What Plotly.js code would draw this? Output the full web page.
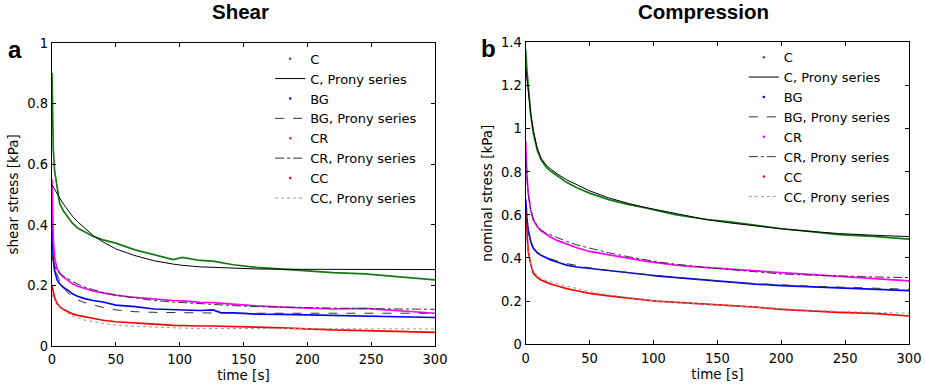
<!DOCTYPE html>
<html>
<head>
<meta charset="utf-8">
<script src="https://cdn.plot.ly/plotly-3.0.1.min.js"></script>
<style>html,body{margin:0;padding:0;background:#fff;}#chart{width:925px;height:385px;}</style>
</head>
<body>
<div id="chart"></div>
<script>
// time samples [s]
var time = [0, 0.5, 1, 2, 4, 6, 9, 12, 16, 20, 25, 32, 40, 50, 65, 80, 95, 102, 116, 126, 132, 142, 160, 180, 200, 220, 245, 272, 300];

// Shear stress [kPa]
var shearC      = [0.90, 0.75, 0.65, 0.58, 0.52, 0.47, 0.445, 0.427, 0.405, 0.389, 0.377, 0.362, 0.350, 0.339, 0.317, 0.300, 0.285, 0.292, 0.282, 0.280, 0.275, 0.268, 0.259, 0.253, 0.249, 0.242, 0.238, 0.227, 0.218];
var shearCFit   = [0.532, 0.528, 0.524, 0.517, 0.502, 0.488, 0.468, 0.450, 0.428, 0.410, 0.390, 0.365, 0.343, 0.320, 0.298, 0.281, 0.270, 0.266, 0.261, 0.259, 0.258, 0.256, 0.254, 0.253, 0.253, 0.252, 0.252, 0.252, 0.252];
var shearBG     = [0.40, 0.33, 0.285, 0.25, 0.218, 0.205, 0.193, 0.185, 0.172, 0.164, 0.157, 0.150, 0.145, 0.135, 0.130, 0.122, 0.120, 0.119, 0.117, 0.119, 0.110, 0.109, 0.105, 0.104, 0.102, 0.100, 0.100, 0.097, 0.094];
var shearBGFit  = [0.30, 0.29, 0.28, 0.26, 0.235, 0.215, 0.193, 0.177, 0.163, 0.152, 0.144, 0.135, 0.127, 0.119, 0.113, 0.111, 0.110, 0.109, 0.108, 0.108, 0.108, 0.108, 0.108, 0.108, 0.108, 0.108, 0.108, 0.108, 0.108];
var shearCR     = [0.55, 0.42, 0.35, 0.29, 0.255, 0.24, 0.227, 0.218, 0.205, 0.197, 0.190, 0.182, 0.175, 0.168, 0.160, 0.154, 0.150, 0.149, 0.144, 0.143, 0.141, 0.138, 0.132, 0.128, 0.124, 0.122, 0.124, 0.116, 0.108];
var shearCRFit  = [0.30, 0.29, 0.28, 0.265, 0.248, 0.238, 0.230, 0.223, 0.213, 0.204, 0.195, 0.185, 0.176, 0.167, 0.158, 0.150, 0.145, 0.143, 0.139, 0.137, 0.136, 0.133, 0.130, 0.128, 0.126, 0.124, 0.123, 0.122, 0.121];
var shearCC     = [0.20, 0.19, 0.18, 0.16, 0.14, 0.13, 0.12, 0.113, 0.106, 0.101, 0.097, 0.091, 0.085, 0.080, 0.075, 0.072, 0.068, 0.067, 0.066, 0.066, 0.065, 0.064, 0.062, 0.060, 0.056, 0.053, 0.051, 0.047, 0.045];
var shearCCFit  = [0.17, 0.165, 0.16, 0.152, 0.14, 0.13, 0.118, 0.108, 0.099, 0.093, 0.086, 0.080, 0.075, 0.069, 0.065, 0.062, 0.060, 0.059, 0.058, 0.058, 0.058, 0.058, 0.058, 0.058, 0.058, 0.058, 0.057, 0.056, 0.056];

// Nominal (compression) stress [kPa]
var compC       = [1.365, 1.30, 1.27, 1.20, 1.06, 0.978, 0.90, 0.855, 0.82, 0.80, 0.78, 0.75, 0.725, 0.70, 0.67, 0.648, 0.63, 0.62, 0.602, 0.592, 0.586, 0.578, 0.567, 0.552, 0.535, 0.524, 0.508, 0.500, 0.487];
var compCFit    = [1.28, 1.25, 1.22, 1.17, 1.07, 0.99, 0.91, 0.862, 0.83, 0.81, 0.788, 0.762, 0.738, 0.711, 0.678, 0.653, 0.632, 0.624, 0.605, 0.594, 0.587, 0.577, 0.562, 0.547, 0.535, 0.524, 0.513, 0.505, 0.499];
var compBG      = [0.672, 0.62, 0.58, 0.53, 0.475, 0.445, 0.425, 0.412, 0.40, 0.39, 0.38, 0.367, 0.358, 0.352, 0.342, 0.332, 0.322, 0.317, 0.31, 0.305, 0.302, 0.295, 0.286, 0.279, 0.272, 0.267, 0.262, 0.256, 0.249];
var compBGFit   = [0.60, 0.58, 0.56, 0.52, 0.475, 0.447, 0.427, 0.414, 0.403, 0.394, 0.385, 0.374, 0.364, 0.354, 0.342, 0.332, 0.322, 0.318, 0.31, 0.305, 0.302, 0.296, 0.288, 0.281, 0.275, 0.27, 0.265, 0.26, 0.255];
var compCR      = [0.94, 0.85, 0.78, 0.70, 0.62, 0.576, 0.545, 0.525, 0.508, 0.495, 0.48, 0.463, 0.447, 0.43, 0.413, 0.399, 0.384, 0.378, 0.368, 0.362, 0.359, 0.354, 0.348, 0.340, 0.332, 0.324, 0.315, 0.305, 0.294];
var compCRFit   = [0.86, 0.82, 0.77, 0.70, 0.62, 0.58, 0.55, 0.53, 0.515, 0.505, 0.494, 0.477, 0.46, 0.445, 0.424, 0.406, 0.39, 0.383, 0.372, 0.365, 0.361, 0.355, 0.346, 0.335, 0.326, 0.321, 0.316, 0.312, 0.309];
var compCC      = [0.615, 0.55, 0.50, 0.43, 0.37, 0.329, 0.31, 0.298, 0.288, 0.278, 0.27, 0.258, 0.248, 0.236, 0.224, 0.216, 0.205, 0.20, 0.195, 0.192, 0.19, 0.186, 0.18, 0.172, 0.162, 0.155, 0.148, 0.143, 0.131];
var compCCFit   = [0.52, 0.49, 0.46, 0.42, 0.37, 0.34, 0.32, 0.305, 0.295, 0.287, 0.28, 0.27, 0.258, 0.244, 0.229, 0.216, 0.205, 0.2, 0.194, 0.19, 0.188, 0.184, 0.178, 0.172, 0.164, 0.158, 0.152, 0.147, 0.144];

var xTicks = [0, 50, 100, 150, 200, 250, 300];
var seriesNames = ['C', 'BG', 'CR', 'CC'];
var fitSuffix = ', Prony series';

// ---- styling / layout ----
var W = 925, H = 385;
var ml = 51.7, mr = 15.7, mt = 42.3, mb = 39;
var pw = W - ml - mr, ph = H - mt - mb;
function px(x) { return (x - ml) / pw; }
function py(y) { return (H - mb - y) / ph; }

var dataColors = ['#117a11', '#0000ff', '#ff00ff', '#ff0000'];
var fitStyles = [
  {color: '#000000', dash: 'solid', width: 1},
  {color: '#333333', dash: 'dash', width: 1},
  {color: '#333333', dash: 'dashdot', width: 1},
  {color: '#999999', dash: 'dot', width: 1}
];

var shearData = [shearC, shearBG, shearCR, shearCC];
var shearFits = [shearCFit, shearBGFit, shearCRFit, shearCCFit];
var compData = [compC, compBG, compCR, compCC];
var compFits = [compCFit, compBGFit, compCRFit, compCCFit];

var traces = [];
function addPanel(dataSets, fitSets, xa, ya, leg) {
  for (var i = 0; i < seriesNames.length; i++) {
    traces.push({x: time, y: dataSets[i], xaxis: xa, yaxis: ya, mode: 'lines', type: 'scatter',
      line: {color: dataColors[i], width: 1.7}, showlegend: false, hoverinfo: 'skip'});
  }
  for (var j = 0; j < seriesNames.length; j++) {
    traces.push({x: time, y: fitSets[j], xaxis: xa, yaxis: ya, mode: 'lines', type: 'scatter',
      line: fitStyles[j], showlegend: false, hoverinfo: 'skip'});
  }
  // legend entries (point symbol for measurements, line for fits)
  for (var k = 0; k < seriesNames.length; k++) {
    traces.push({x: [null], y: [null], xaxis: xa, yaxis: ya, mode: 'markers', type: 'scatter',
      marker: {color: dataColors[k], size: 2.5}, name: seriesNames[k], legend: leg});
    traces.push({x: [null], y: [null], xaxis: xa, yaxis: ya, mode: 'lines', type: 'scatter',
      line: fitStyles[k], name: seriesNames[k] + fitSuffix, legend: leg});
  }
}
addPanel(shearData, shearFits, 'x', 'y', 'legend');
addPanel(compData, compFits, 'x2', 'y2', 'legend2');

var tickFont = {family: 'DejaVu Sans Condensed, DejaVu Sans', size: 14.5, color: '#000'};
var titleFont = {family: 'DejaVu Sans', size: 13.5, color: '#000'};

function xaxisDef(domain, anchor) {
  return {domain: domain, anchor: anchor, range: [0, 300], tickvals: xTicks, ticks: 'inside', ticklen: 4,
    tickcolor: '#000', showline: true, linecolor: '#000', linewidth: 1, mirror: 'ticks',
    showgrid: false, zeroline: false, tickfont: tickFont,
    title: {text: 'time [s]', font: titleFont, standoff: 0}};
}
function yaxisDef(domain, anchor, range, title) {
  return {domain: domain, anchor: anchor, range: range, dtick: 0.2, ticks: 'inside', ticklen: 4,
    tickcolor: '#000', showline: true, linecolor: '#000', linewidth: 1, mirror: 'ticks',
    showgrid: false, zeroline: false, tickfont: tickFont,
    title: {text: title, font: titleFont, standoff: 5}};
}

var legendCommon = {bgcolor: 'rgba(0,0,0,0)', borderwidth: 0, font: {family: 'DejaVu Sans', size: 13, color: '#000'},
  xanchor: 'left', yanchor: 'top', tracegroupgap: 0, itemwidth: 30};

var layout = {
  width: W, height: H, paper_bgcolor: '#fff', plot_bgcolor: '#fff',
  margin: {l: ml, r: mr, t: mt, b: mb, pad: 0},
  showlegend: true,
  xaxis: xaxisDef([0, px(435)], 'y'),
  yaxis: yaxisDef([py(346), py(43)], 'x', [0, 1], 'shear stress [kPa]'),
  xaxis2: xaxisDef([px(525.7), px(909.3)], 'y2'),
  yaxis2: yaxisDef([py(344.3), py(42.3)], 'x2', [0, 1.4], 'nominal stress [kPa]'),
  legend: Object.assign({x: px(270), y: py(44)}, legendCommon),
  legend2: Object.assign({x: px(744), y: py(42.5)}, legendCommon),
  annotations: [
    {text: '<b>Shear</b>', x: px(240.7), y: py(12), xref: 'paper', yref: 'paper', showarrow: false,
      xanchor: 'center', yanchor: 'middle', font: {family: 'Liberation Sans', size: 20.5, color: '#000'}},
    {text: '<b>Compression</b>', x: px(704), y: py(12), xref: 'paper', yref: 'paper', showarrow: false,
      xanchor: 'center', yanchor: 'middle', font: {family: 'Liberation Sans', size: 20.5, color: '#000'}},
    {text: '<b>a</b>', x: px(15), y: py(50), xref: 'paper', yref: 'paper', showarrow: false,
      xanchor: 'center', yanchor: 'middle', font: {family: 'Liberation Sans', size: 24, color: '#000'}},
    {text: '<b>b</b>', x: px(489), y: py(49), xref: 'paper', yref: 'paper', showarrow: false,
      xanchor: 'center', yanchor: 'middle', font: {family: 'Liberation Sans', size: 24, color: '#000'}}
  ]
};

Plotly.newPlot('chart', traces, layout, {staticPlot: true, displayModeBar: false});
</script>
</body>
</html>
